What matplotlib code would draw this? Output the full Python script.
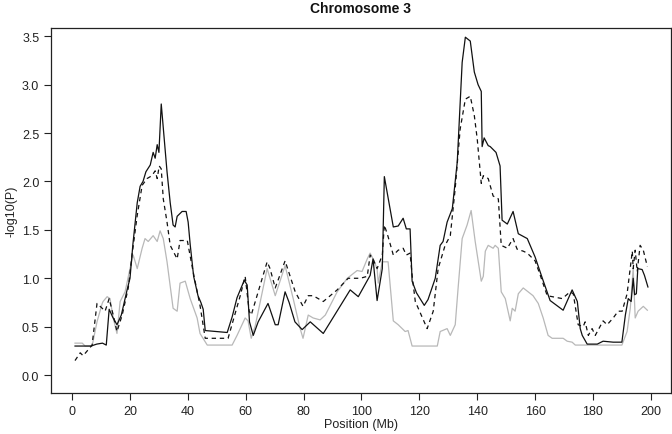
import matplotlib
matplotlib.use("Agg")
import matplotlib.pyplot as plt

# Solid black series (Mb, -log10 P)
solid_x = [1.0, 6.5, 8.5, 10.5, 11.8, 12.8, 14.0, 15.5, 17.0, 19.0, 20.0, 21.0, 22.5, 23.5, 24.5, 25.5,
           27.0, 28.0, 28.7, 29.4, 30.0, 30.8, 31.8, 32.8, 33.9, 34.9, 35.6, 36.3, 38.0, 39.4, 40.1, 40.8,
           42.0, 43.5, 44.5, 45.3, 46.0, 53.6, 55.3, 57.0, 59.5, 60.5, 61.3, 62.6, 64.3, 67.7, 70.2, 71.2,
           73.6, 75.0, 77.0, 79.5, 82.3, 86.8, 96.1, 98.9, 103.0, 104.0, 105.4, 107.2, 107.9, 111.0, 112.7,
           114.4, 115.5, 116.8, 117.5, 119.0, 121.7, 123.0, 125.5, 127.2, 128.2, 129.6, 131.4, 133.1, 134.8,
           135.9, 137.6, 139.0, 140.3, 141.4, 141.7, 142.4, 143.8, 144.5, 145.5, 146.5, 147.9, 148.6, 150.4,
           152.4, 154.2, 157.3, 160.0, 162.5, 165.2, 169.7, 172.8, 174.6, 175.6, 176.3, 178.0, 181.5, 183.5,
           187.0, 190.0, 191.2, 192.2, 193.2, 193.9, 194.4, 195.0, 195.5, 197.0, 197.8, 199.0]
solid_y = [0.30, 0.30, 0.32, 0.33, 0.31, 0.68, 0.60, 0.52, 0.62, 0.88, 1.00, 1.35, 1.78, 1.95, 2.00, 2.10,
           2.17, 2.30, 2.24, 2.38, 2.30, 2.80, 2.45, 2.10, 1.78, 1.55, 1.53, 1.64, 1.69, 1.69, 1.58, 1.35,
           1.02, 0.82, 0.75, 0.68, 0.46, 0.44, 0.60, 0.80, 0.98, 0.93, 0.55, 0.41, 0.55, 0.74, 0.52, 0.52,
           0.86, 0.75, 0.55, 0.47, 0.55, 0.43, 0.88, 0.81, 1.03, 1.20, 0.77, 1.10, 2.05, 1.53, 1.54,
           1.62, 1.51, 1.51, 0.97, 0.85, 0.72, 0.78, 1.00, 1.34, 1.38, 1.58, 1.72, 2.20, 3.23,
           3.49, 3.45, 3.13, 3.00, 2.93, 2.36, 2.45, 2.37, 2.36, 2.33, 2.30, 2.16, 1.60, 1.56,
           1.69, 1.46, 1.41, 1.22, 1.00, 0.77, 0.67, 0.88, 0.76, 0.48, 0.41, 0.32, 0.32, 0.35,
           0.34, 0.34, 0.62, 0.79, 0.76, 1.00, 0.83, 0.84, 1.10, 1.09, 1.03, 0.91]

# Dashed black series
dashed_x = [1.0, 2.8, 3.8, 5.5, 6.9, 8.6, 10.4, 11.4, 12.8, 14.2, 15.5, 17.3, 19.4, 20.7, 22.5, 24.2, 25.9,
            27.6, 28.7, 29.4, 30.1, 30.8, 31.5, 32.8, 33.9, 36.3, 37.3, 39.8, 41.8, 44.2, 46.0, 53.9, 56.0,
            58.1, 59.8, 61.2, 61.9, 67.4, 68.4, 70.2, 73.6, 77.1, 79.8, 81.6, 83.3, 86.8, 91.6, 95.4, 99.6,
            102.0, 103.0, 104.0, 105.4, 107.2, 107.9, 109.2, 111.0, 112.7, 114.4, 115.5, 116.8, 117.5, 118.6,
            122.7, 124.8, 126.5, 128.9, 130.7, 132.4, 134.1, 135.9, 137.6, 139.0, 140.0, 141.4, 142.1, 143.8,
            145.5, 147.3, 148.3, 150.4, 152.4, 153.8, 155.9, 157.3, 160.0, 161.8, 164.2, 165.9, 169.4, 172.1,
            173.2, 174.9, 176.6, 177.3, 178.4, 179.7, 180.8, 183.5, 184.9, 187.0, 188.7, 190.1, 191.8, 193.6,
            193.9, 194.6, 195.3, 196.3, 197.4, 198.8]
dashed_y = [0.15, 0.23, 0.20, 0.26, 0.31, 0.74, 0.69, 0.66, 0.79, 0.62, 0.45, 0.62, 0.90, 1.24, 1.65, 1.96, 2.03,
            2.06, 2.11, 2.03, 2.16, 2.13, 1.82, 1.58, 1.34, 1.20, 1.39, 1.39, 1.07, 0.72, 0.38, 0.38, 0.60,
            0.82, 1.02, 0.66, 0.62, 1.17, 1.10, 0.90, 1.18, 0.86, 0.71, 0.82, 0.82, 0.76, 0.88, 1.00, 1.00,
            1.02, 1.24, 1.20, 1.10, 1.24, 1.55, 1.43, 1.24, 1.29, 1.31, 1.24, 1.26, 1.03, 0.76,
            0.48, 0.66, 1.10, 1.34, 1.44, 1.93, 2.54, 2.85, 2.88, 2.68, 2.44, 1.98, 2.06, 2.03,
            1.85, 1.82, 1.34, 1.31, 1.41, 1.30, 1.28, 1.26, 1.18, 1.03, 0.82, 0.81, 0.79, 0.86,
            0.84, 0.52, 0.50, 0.55, 0.41, 0.48, 0.41, 0.56, 0.52, 0.59, 0.66, 0.66, 0.84, 1.28,
            1.10, 1.29, 1.07, 1.34, 1.29, 1.12]

# Grey series
grey_x = [1.0, 3.5, 4.5, 6.9, 8.6, 10.4, 10.7, 12.1, 13.1, 14.2, 15.5, 16.6, 18.3, 20.0, 21.1, 22.5, 24.2,
          25.2, 26.3, 28.0, 29.4, 30.4, 31.5, 32.8, 34.9, 36.3, 37.3, 39.1, 40.8, 43.2, 44.2, 46.7, 55.3,
          57.0, 59.8, 60.8, 61.9, 63.3, 67.4, 69.1, 70.2, 73.6, 76.4, 78.8, 79.8, 81.6, 83.3, 85.7, 87.5,
          91.6, 95.1, 98.5, 100.2, 102.0, 103.0, 104.0, 105.4, 105.8, 107.2, 109.2, 111.0, 112.7, 115.1,
          116.1, 117.5, 126.2, 127.2, 129.6, 130.7, 132.4, 133.4, 134.8, 136.5, 137.9, 139.3, 141.4, 142.1,
          142.8, 143.8, 145.5, 146.2, 147.3, 148.3, 149.7, 151.4, 152.1, 153.1, 154.2, 155.9, 157.6, 159.3,
          161.1, 162.8, 164.5, 165.9, 169.7, 171.1, 172.8, 173.9, 190.0, 191.8, 192.9, 193.9, 194.6, 195.6,
          197.4, 198.8]
grey_y = [0.33, 0.33, 0.30, 0.30, 0.55, 0.74, 0.76, 0.81, 0.79, 0.59, 0.43, 0.76, 0.86, 1.10, 1.24, 1.10, 1.31,
          1.41, 1.38, 1.44, 1.38, 1.49, 1.41, 1.17, 0.69, 0.66, 0.95, 0.97, 0.79, 0.59, 0.43, 0.31, 0.31,
          0.41, 0.59, 0.56, 0.38, 0.51, 1.10, 0.93, 0.82, 1.13, 0.79, 0.48, 0.38, 0.62, 0.59, 0.57, 0.62,
          0.86, 1.00, 1.08, 1.07, 1.20, 1.26, 1.20, 1.10, 0.95, 1.17, 1.17, 0.56, 0.52, 0.45,
          0.46, 0.30, 0.30, 0.45, 0.48, 0.41, 0.52, 0.90, 1.41, 1.55, 1.70, 1.38, 0.97, 1.02,
          1.28, 1.34, 1.31, 1.34, 1.31, 0.86, 0.79, 0.56, 0.69, 0.66, 0.84, 0.90, 0.86, 0.82,
          0.74, 0.59, 0.41, 0.38, 0.38, 0.35, 0.34, 0.31, 0.31, 0.45, 0.69, 1.10, 0.59, 0.66,
          0.71, 0.67]

x_ticks = [0, 20, 40, 60, 80, 100, 120, 140, 160, 180, 200]
y_ticks = [0.0, 0.5, 1.0, 1.5, 2.0, 2.5, 3.0, 3.5]

plt.rcParams['font.family'] = ['Liberation Sans', 'DejaVu Sans']

W, H = 672, 435
fig = plt.figure(figsize=(W / 100, H / 100), dpi=100)
ax = fig.add_axes([51 / W, 1 - 394 / H, (670.5 - 51) / W, (394 - 29) / H])

ax.plot(grey_x, grey_y, color='#b8b8b8', lw=0.9)
ax.plot(dashed_x, dashed_y, color='#111111', lw=0.9, linestyle=(0, (3.5, 3)))
ax.plot(solid_x, solid_y, color='#111111', lw=0.9)

ax.set_xlim(-7.3, 206.8)
ax.set_ylim(-0.185, 3.585)
ax.set_xticks(x_ticks)
ax.set_yticks(y_ticks)
ax.set_yticklabels([f"{v:.1f}" for v in y_ticks])
ax.tick_params(direction='out', length=5, width=0.8, labelsize=9, pad=3.5, colors='#222222')
for s in ax.spines.values():
    s.set_linewidth(0.9)
    s.set_color('#222222')

fig.text(361 / W, 1 - 425 / H, 'Position (Mb)', fontsize=9, ha='center', va='center', color='#222222')
fig.text(12 / W, 1 - 211 / H, '-log10(P)', fontsize=9, ha='center', va='center', rotation=90, color='#222222')
fig.text(361 / W, 1 - 9 / H, 'Chromosome 3', fontsize=10, fontweight='bold', ha='center', va='center', color='#111111')

fig.savefig('out.png', dpi=100)
